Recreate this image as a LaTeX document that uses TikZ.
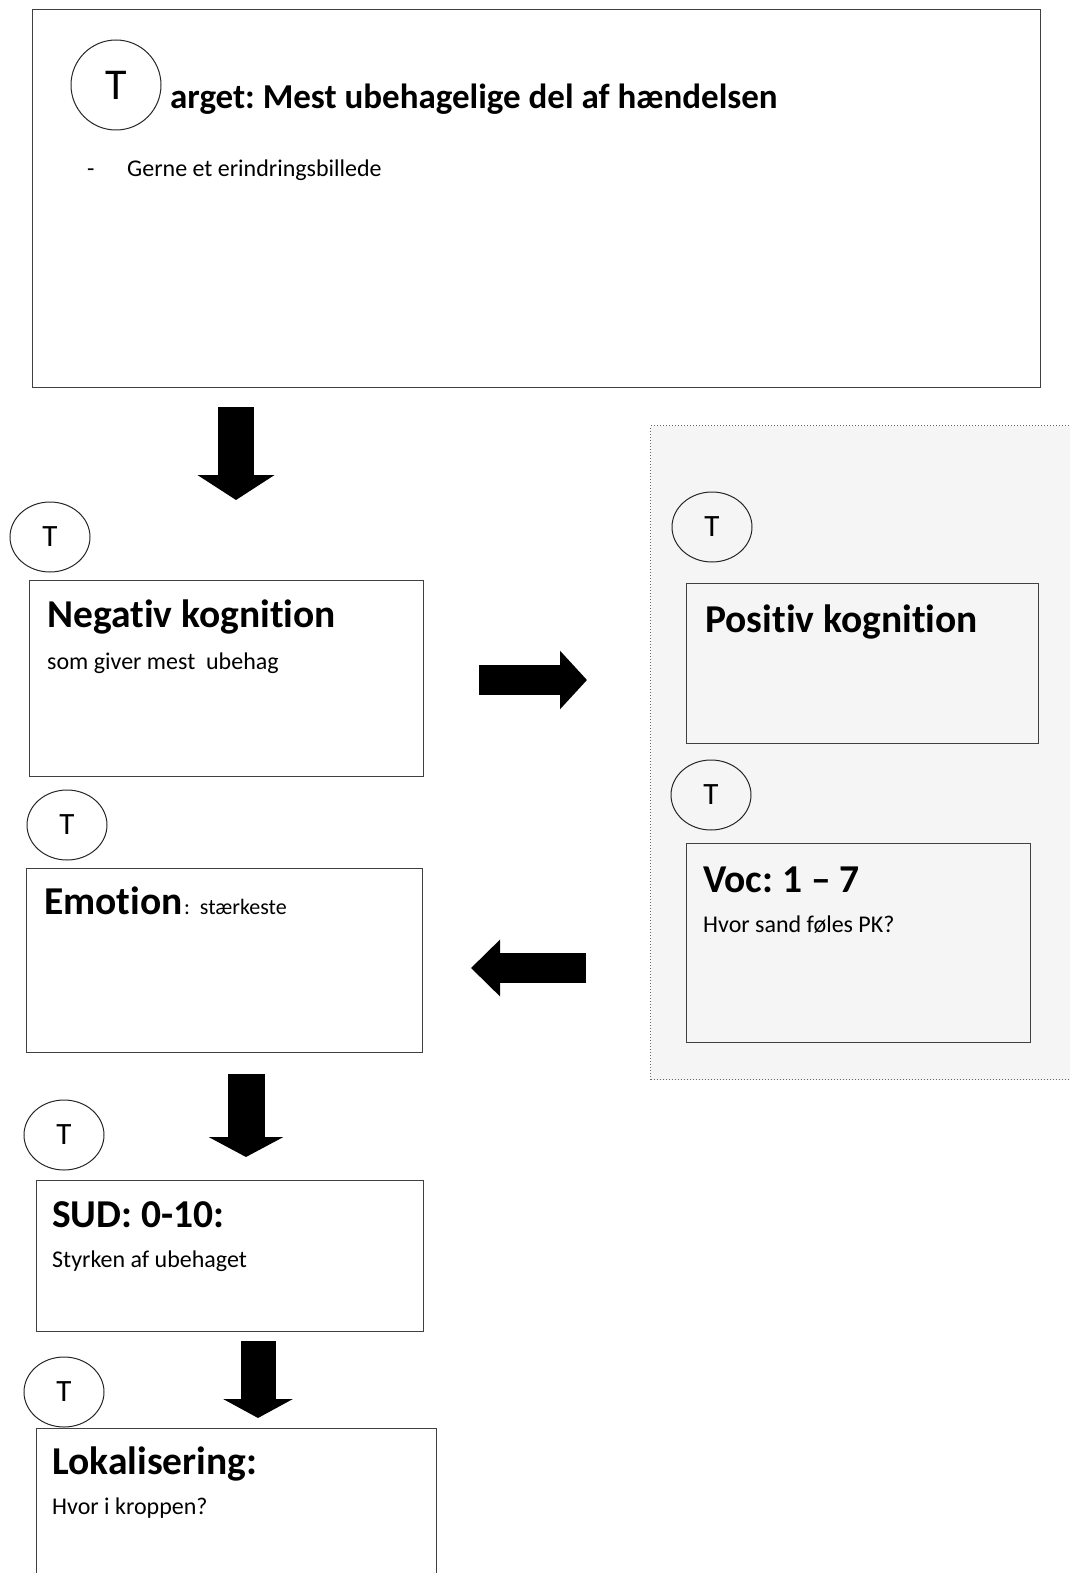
\documentclass[tikz,border=0pt]{standalone}
\usepackage{fontspec}
\setmainfont[Ligatures=NoCommon]{Carlito}
\usetikzlibrary{positioning,shapes.geometric,arrows.meta}
\frenchspacing

\begin{document}
\begin{tikzpicture}[x=1pt,y=-1pt,
    box/.style={draw=black!75,line width=1.3pt,anchor=north west,inner sep=0pt},
    tmark/.style={draw=black!85,ellipse,line width=1pt,minimum width=80pt,minimum height=70pt,
        inner sep=0pt,font=\fontsize{31}{31}\selectfont},
    head/.style={anchor=base west,inner sep=0pt,font=\fontsize{39.5}{39.5}\selectfont\bfseries},
    sub/.style={anchor=base west,inner sep=0pt,font=\fontsize{24}{24}\selectfont},
    fatarrow/.style n args={3}{line width=#1,-{Triangle[width=#2,length=#3]}}]
  \useasboundingbox (0,0) rectangle (1070,1573);

  % right panel
  \node[box,draw=black!60,line width=1pt,dotted,fill=black!4,
        minimum width=440pt,minimum height=654pt] (panel) at (650,425) {};

  % target
  \node[box,minimum width=1008pt,minimum height=378pt] (target) at (32,9) {};
  \node[tmark,circle,minimum size=90pt,font=\fontsize{44}{44}\selectfont] (t0) at (116,85) {T};
  \node[anchor=base west,inner sep=0pt,font=\fontsize{35}{35}\selectfont\bfseries]
        (ttxt) at (170,109) {arget: Mest ubehagelige del af hændelsen};
  \node[sub] (dash) at (87,177) {-};
  \node[sub] (tsub) at (127,177) {Gerne et erindringsbillede};

  % left column
  \node[box,minimum width=394pt,minimum height=196pt] (neg) at (29,580) {};
  \node[tmark] (t1) at (50,537) {T};
  \node[below right=47pt and 18pt of neg.north west,head] (negtxt) {Negativ kognition};
  \node[below right=89pt and 18pt of neg.north west,sub] (negsub) {som giver mest\ \ ubehag};

  \node[box,minimum width=396pt,minimum height=184pt] (emo) at (26,868) {};
  \node[tmark] (t2) at (67,825) {T};
  \node[below right=46pt and 18pt of emo.north west,head] (emotxt) {Emotion};
  \node[right=1pt of emotxt.base east,anchor=base west,inner sep=0pt,
        font=\fontsize{22}{22}\selectfont] (emosub) {:\ \ stærkeste};

  \node[box,minimum width=387pt,minimum height=151pt] (sud) at (36,1180) {};
  \node[tmark] (t3) at (64,1135) {T};
  \node[below right=47pt and 16pt of sud.north west,head] (sudtxt) {SUD: 0-10:};
  \node[below right=87pt and 16pt of sud.north west,sub] (sudsub) {Styrken af ubehaget};

  \node[box,minimum width=400pt,minimum height=200pt] (lok) at (36,1428) {};
  \node[tmark] (t4) at (64,1392) {T};
  \node[below right=46pt and 16pt of lok.north west,head] (loktxt) {Lokalisering:};
  \node[below right=86pt and 16pt of lok.north west,sub] (loksub) {Hvor i kroppen?};

  % right column
  \node[box,minimum width=352pt,minimum height=160pt] (pos) at (686,583) {};
  \node[tmark] (t5) at (712,527) {T};
  \node[below right=49pt and 19pt of pos.north west,head] (postxt) {Positiv kognition};

  \node[box,minimum width=344pt,minimum height=199pt] (voc) at (686,843) {};
  \node[tmark] (t6) at (711,795) {T};
  \node[below right=49pt and 17pt of voc.north west,head] (voctxt) {Voc: 1 – 7};
  \node[below right=89pt and 17pt of voc.north west,sub] (vocsub) {Hvor sand føles PK?};

  % arrows
  \coordinate (a1s) at (236,407);  \coordinate (a1e) at (236,500);
  \coordinate (a2s) at (479,680);  \coordinate (a2e) at (587,680);
  \coordinate (a3s) at (586,968);  \coordinate (a3e) at (471,968);
  \coordinate (a4s) at (246,1074); \coordinate (a4e) at (246,1157);
  \coordinate (a5s) at (258,1341); \coordinate (a5e) at (258,1418);
  \draw[fatarrow={36pt}{76pt}{25pt}] (a1s) -- (a1e);
  \draw[fatarrow={30pt}{57pt}{27pt}] (a2s) -- (a2e);
  \draw[fatarrow={30pt}{55pt}{29pt}] (a3s) -- (a3e);
  \draw[fatarrow={37pt}{74pt}{20pt}] (a4s) -- (a4e);
  \draw[fatarrow={35pt}{69pt}{19pt}] (a5s) -- (a5e);
\end{tikzpicture}
\end{document}
